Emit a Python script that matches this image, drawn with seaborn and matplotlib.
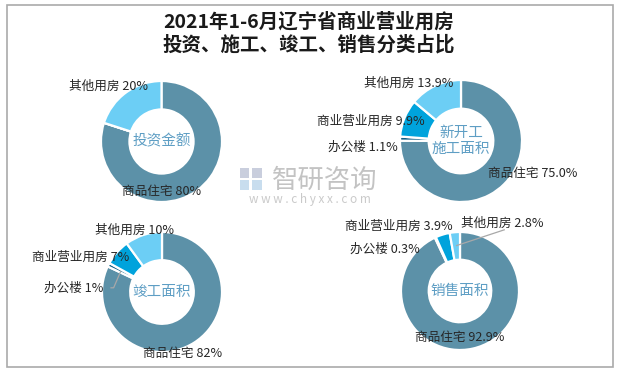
import matplotlib
matplotlib.use("Agg")
import matplotlib.pyplot as plt
from matplotlib.patches import Rectangle
import seaborn as sns
import numpy as np

# Data (percent shares, clockwise from 12 o'clock)
categories = ["商品住宅", "办公楼", "商业营业用房", "其他用房"]
invest_share = [80, 0, 0, 20]
newstart_share = [75.0, 1.1, 9.9, 13.9]
completed_share = [82, 1, 7, 10]
sales_share = [92.9, 0.3, 3.9, 2.8]
chart_names = ["投资金额", "新开工\n施工面积", "竣工面积", "销售面积"]
pct_formats = ["{:.0f}%", "{:.1f}%", "{:.0f}%", "{:.1f}%"]

colors = ["#5C91A8", "#0F5E86", "#00A3DC", "#6CCEF5"]

sns.set_theme(style="white")
plt.rcParams["font.family"] = ["Noto Sans CJK SC", "DejaVu Sans"]

W, H = 618, 373
fig = plt.figure(figsize=(W / 100, H / 100), dpi=100)

# donut centres / radius in pixels, plus label offsets (in radius units)
layout = [
    dict(c=(161.5, 141.5), r=60.5,
         labels={3: (-0.22, 0.92, "right"), 0: (0.0, -0.83, "center")}),
    dict(c=(461, 141), r=61,
         labels={3: (-0.13, 0.95, "right"), 2: (-0.59, 0.33, "right"),
                 1: (-1.03, -0.10, "right"), 0: (0.44, -0.54, "left")}),
    dict(c=(162, 292), r=60,
         labels={3: (0.20, 1.02, "right"), 2: (-0.55, 0.57, "right"),
                 1: (-0.98, 0.07, "right"), 0: (0.35, -1.02, "center")},
         leader={1: (-0.86, 0.07)}),
    dict(c=(460, 291), r=59,
         labels={2: (-0.12, 1.10, "right"), 3: (0.02, 1.14, "left"),
                 1: (-0.69, 0.71, "right"), 0: (0.0, -0.78, "center")},
         leader={3: (0.76, 1.04)}),
]

all_data = [invest_share, newstart_share, completed_share, sales_share]
lim = 1.5

for data, name, fmt, lay in zip(all_data, chart_names, pct_formats, layout):
    cx, cy = lay["c"]
    r = lay["r"]
    ax = fig.add_axes([(cx - lim * r) / W, 1 - (cy + lim * r) / H,
                       2 * lim * r / W, 2 * lim * r / H])
    wedges, _ = ax.pie(data, colors=colors, startangle=90, counterclock=False,
                       radius=1.0,
                       wedgeprops=dict(width=0.47, edgecolor="white", linewidth=1.6))
    ax.set_xlim(-lim, lim)
    ax.set_ylim(-lim, lim)
    ax.set_aspect("equal")
    ax.axis("off")

    ax.text(0, 0, name, ha="center", va="center", fontsize=10.5,
            color="#5E9EC4", linespacing=1.15)

    for idx, (dx, dy, ha) in lay["labels"].items():
        ax.text(dx, dy, f"{categories[idx]} " + fmt.format(data[idx]),
                ha=ha, va="center", fontsize=9.1, color="#262626")

    for idx, (ex, ey) in lay.get("leader", {}).items():
        w = wedges[idx]
        mid = np.deg2rad((w.theta1 + w.theta2) / 2)
        sx, sy = 0.77 * np.cos(mid), 0.77 * np.sin(mid)
        if ex < 0:
            pts = [(sx, sy), (sx - 0.12, ey), (ex, ey)]
        else:
            pts = [(sx, sy), (ex, ey)]
        xs, ys = zip(*pts)
        ax.plot(xs, ys, color="#A8A8A8", lw=0.9, solid_capstyle="butt")

# title
fig.text(0.5, 1 - 22 / H, "2021年1-6月辽宁省商业营业用房", ha="center", va="center",
         fontsize=14, fontweight="bold", color="#1a1a1a")
fig.text(0.5, 1 - 45 / H, "投资、施工、竣工、销售分类占比", ha="center", va="center",
         fontsize=14, fontweight="bold", color="#1a1a1a")

# watermark (logo blocks + text)
for (x0, y0, w0, h0, col) in [(240, 168, 9, 10, "#C9CEDD"), (252, 168, 10, 10, "#C9CEDD"),
                              (240, 180, 9, 10, "#C8DDEE"), (252, 180, 10, 10, "#C8DDEE")]:
    fig.add_artist(Rectangle((x0 / W, 1 - (y0 + h0) / H), w0 / W, h0 / H,
                             transform=fig.transFigure, color=col, lw=0))
fig.text(325 / W, 1 - 180 / H, "智研咨询", ha="center", va="center",
         fontsize=19, color="#BDBDBD", alpha=0.9)
fig.text(310 / W, 1 - 200 / H, "w w w . c h y x x . c o m", ha="center", va="center",
         fontsize=8.5, color="#C4C4C4", alpha=0.9)

# frame
fig.add_artist(Rectangle((7 / W, 1 - 367 / H), 606 / W, 362 / H,
                         transform=fig.transFigure, fill=False,
                         edgecolor="#AAAAAA", lw=1.2))

fig.savefig("out.png", dpi=100)
